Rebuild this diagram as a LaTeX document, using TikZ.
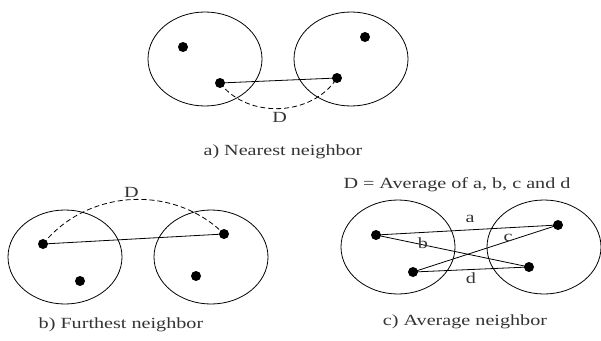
\documentclass[tikz,border=0pt]{standalone}
\usepackage{fontspec}
\setmainfont[FakeStretch=1.3]{Liberation Serif}
\usetikzlibrary{shapes.geometric}

\begin{document}
\begin{tikzpicture}[x=1pt,y=-1pt,line width=0.8pt,
  cluster/.style={draw,ellipse,minimum width=114pt,minimum height=94pt,inner sep=0pt},
  dot/.style={circle,fill,inner sep=0pt,minimum size=10pt},
  arc/.style={dash pattern=on 5pt off 3pt},
  lbl/.style={text=black!80,font=\fontsize{15.5}{19}\selectfont,inner sep=1pt}]
  \useasboundingbox (0,0) rectangle (601,340);
  % a) nearest neighbor
  \node[cluster] (a1) at (205,59) {};
  \node[cluster] (a2) at (351,59) {};
  \foreach \n/\x/\y in {p1/183/47,p2/220/83,p3/337/78,p4/365/37}{\node[dot] (a\n) at (\x,\y) {};}
  \draw (ap2.center) -- (ap3.center);
  \draw[arc] (ap2.center) to[bend right=55] node[lbl,below=2pt] (aD) {D} (ap3.center);
  \node[lbl] (acap) at (283,152) {a) Nearest neighbor};
  % b) furthest neighbor
  \node[cluster] (b1) at (65,257) {};
  \node[cluster] (b2) at (211,257) {};
  \foreach \n/\x/\y in {p1/43/244,p2/80/281,p3/224/234,p4/196/276}{\node[dot] (b\n) at (\x,\y) {};}
  \draw (bp1.center) -- (bp3.center);
  \draw[arc] (bp1.center) to[bend left=48] node[lbl,above=1pt] (bD) {D} (bp3.center);
  \node[lbl] (bcap) at (121,325) {b) Furthest neighbor};
  % c) average neighbor
  \node[cluster] (c1) at (398,247) {};
  \node[cluster] (c2) at (544,247) {};
  \foreach \n/\x/\y in {p1/376/235,p2/413/272,p3/558/225,p4/529/267}{\node[dot] (c\n) at (\x,\y) {};}
  \draw (cp1.center) -- (cp3.center);
  \draw (cp1.center) -- (cp4.center);
  \draw (cp2.center) -- (cp3.center);
  \draw (cp2.center) -- (cp4.center);
  \node[lbl] (ca) at (470,219) {a};
  \node[lbl] (cb) at (423,243) {b};
  \node[lbl] (cc) at (508,238) {c};
  \node[lbl] (cd) at (471,278) {d};
  \node[lbl] (ctitle) at (457,185) {D = Average of a, b, c and d};
  \node[lbl] (ccap) at (465,322) {c) Average neighbor};
\end{tikzpicture}
\end{document}
